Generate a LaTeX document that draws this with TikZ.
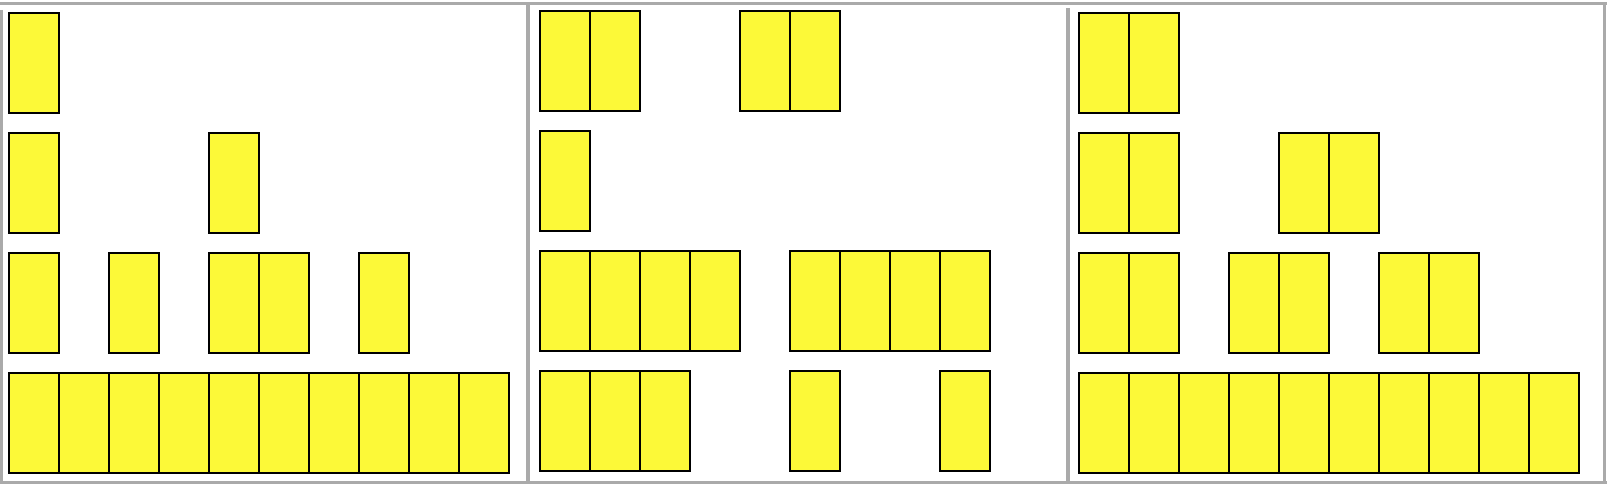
\documentclass[tikz,border=0pt]{standalone}
\usepackage{tikz}
\usepackage{xcolor}
\definecolor{cellyellow}{RGB}{252,249,56}
\definecolor{framegray}{RGB}{170,170,170}

\begin{document}
\begin{tikzpicture}[x = 1pt, y = -1pt,
    cell/.style = {fill = cellyellow, draw = black, line width = 2pt},
    frame/.style = {draw = framegray, line width = 3pt}]
    \useasboundingbox (0,0) rectangle (1607,484);

    % outer frame and dividers
    \draw[frame] (0,3.7) -- (1607,3.7);
    \draw[frame] (0,482.5) -- (1607,482.5);
    \draw[frame] (1.5,10) -- (1.5,484);
    \draw[frame] (1604.5,3.7) -- (1604.5,484);
    \draw[frame, line width = 4pt] (528.3,3.7) -- (528.3,484);
    \draw[frame, line width = 4pt] (1067.7,8) -- (1067.7,484);

    \begin{scope}[xshift = 9pt, yshift = -13pt]
        \foreach \r/\cols in {0/{0}, 1/{0,4}, 2/{0,2,4,5,7}, 3/{0,...,9}}
            \foreach \c in \cols
                \draw[cell] (\c*50,\r*120) rectangle ++(50,100);
    \end{scope}

    \begin{scope}[xshift = 540pt, yshift = -11pt]
        \foreach \r/\cols in {0/{0,1,4,5}, 1/{0}, 2/{0,1,2,3,5,6,7,8}, 3/{0,1,2,5,8}}
            \foreach \c in \cols
                \draw[cell] (\c*50,\r*120) rectangle ++(50,100);
    \end{scope}

    \begin{scope}[xshift = 1079pt, yshift = -13pt]
        \foreach \r/\cols in {0/{0,1}, 1/{0,1,4,5}, 2/{0,1,3,4,6,7}, 3/{0,...,9}}
            \foreach \c in \cols
                \draw[cell] (\c*50,\r*120) rectangle ++(50,100);
    \end{scope}

\end{tikzpicture}
\end{document}
